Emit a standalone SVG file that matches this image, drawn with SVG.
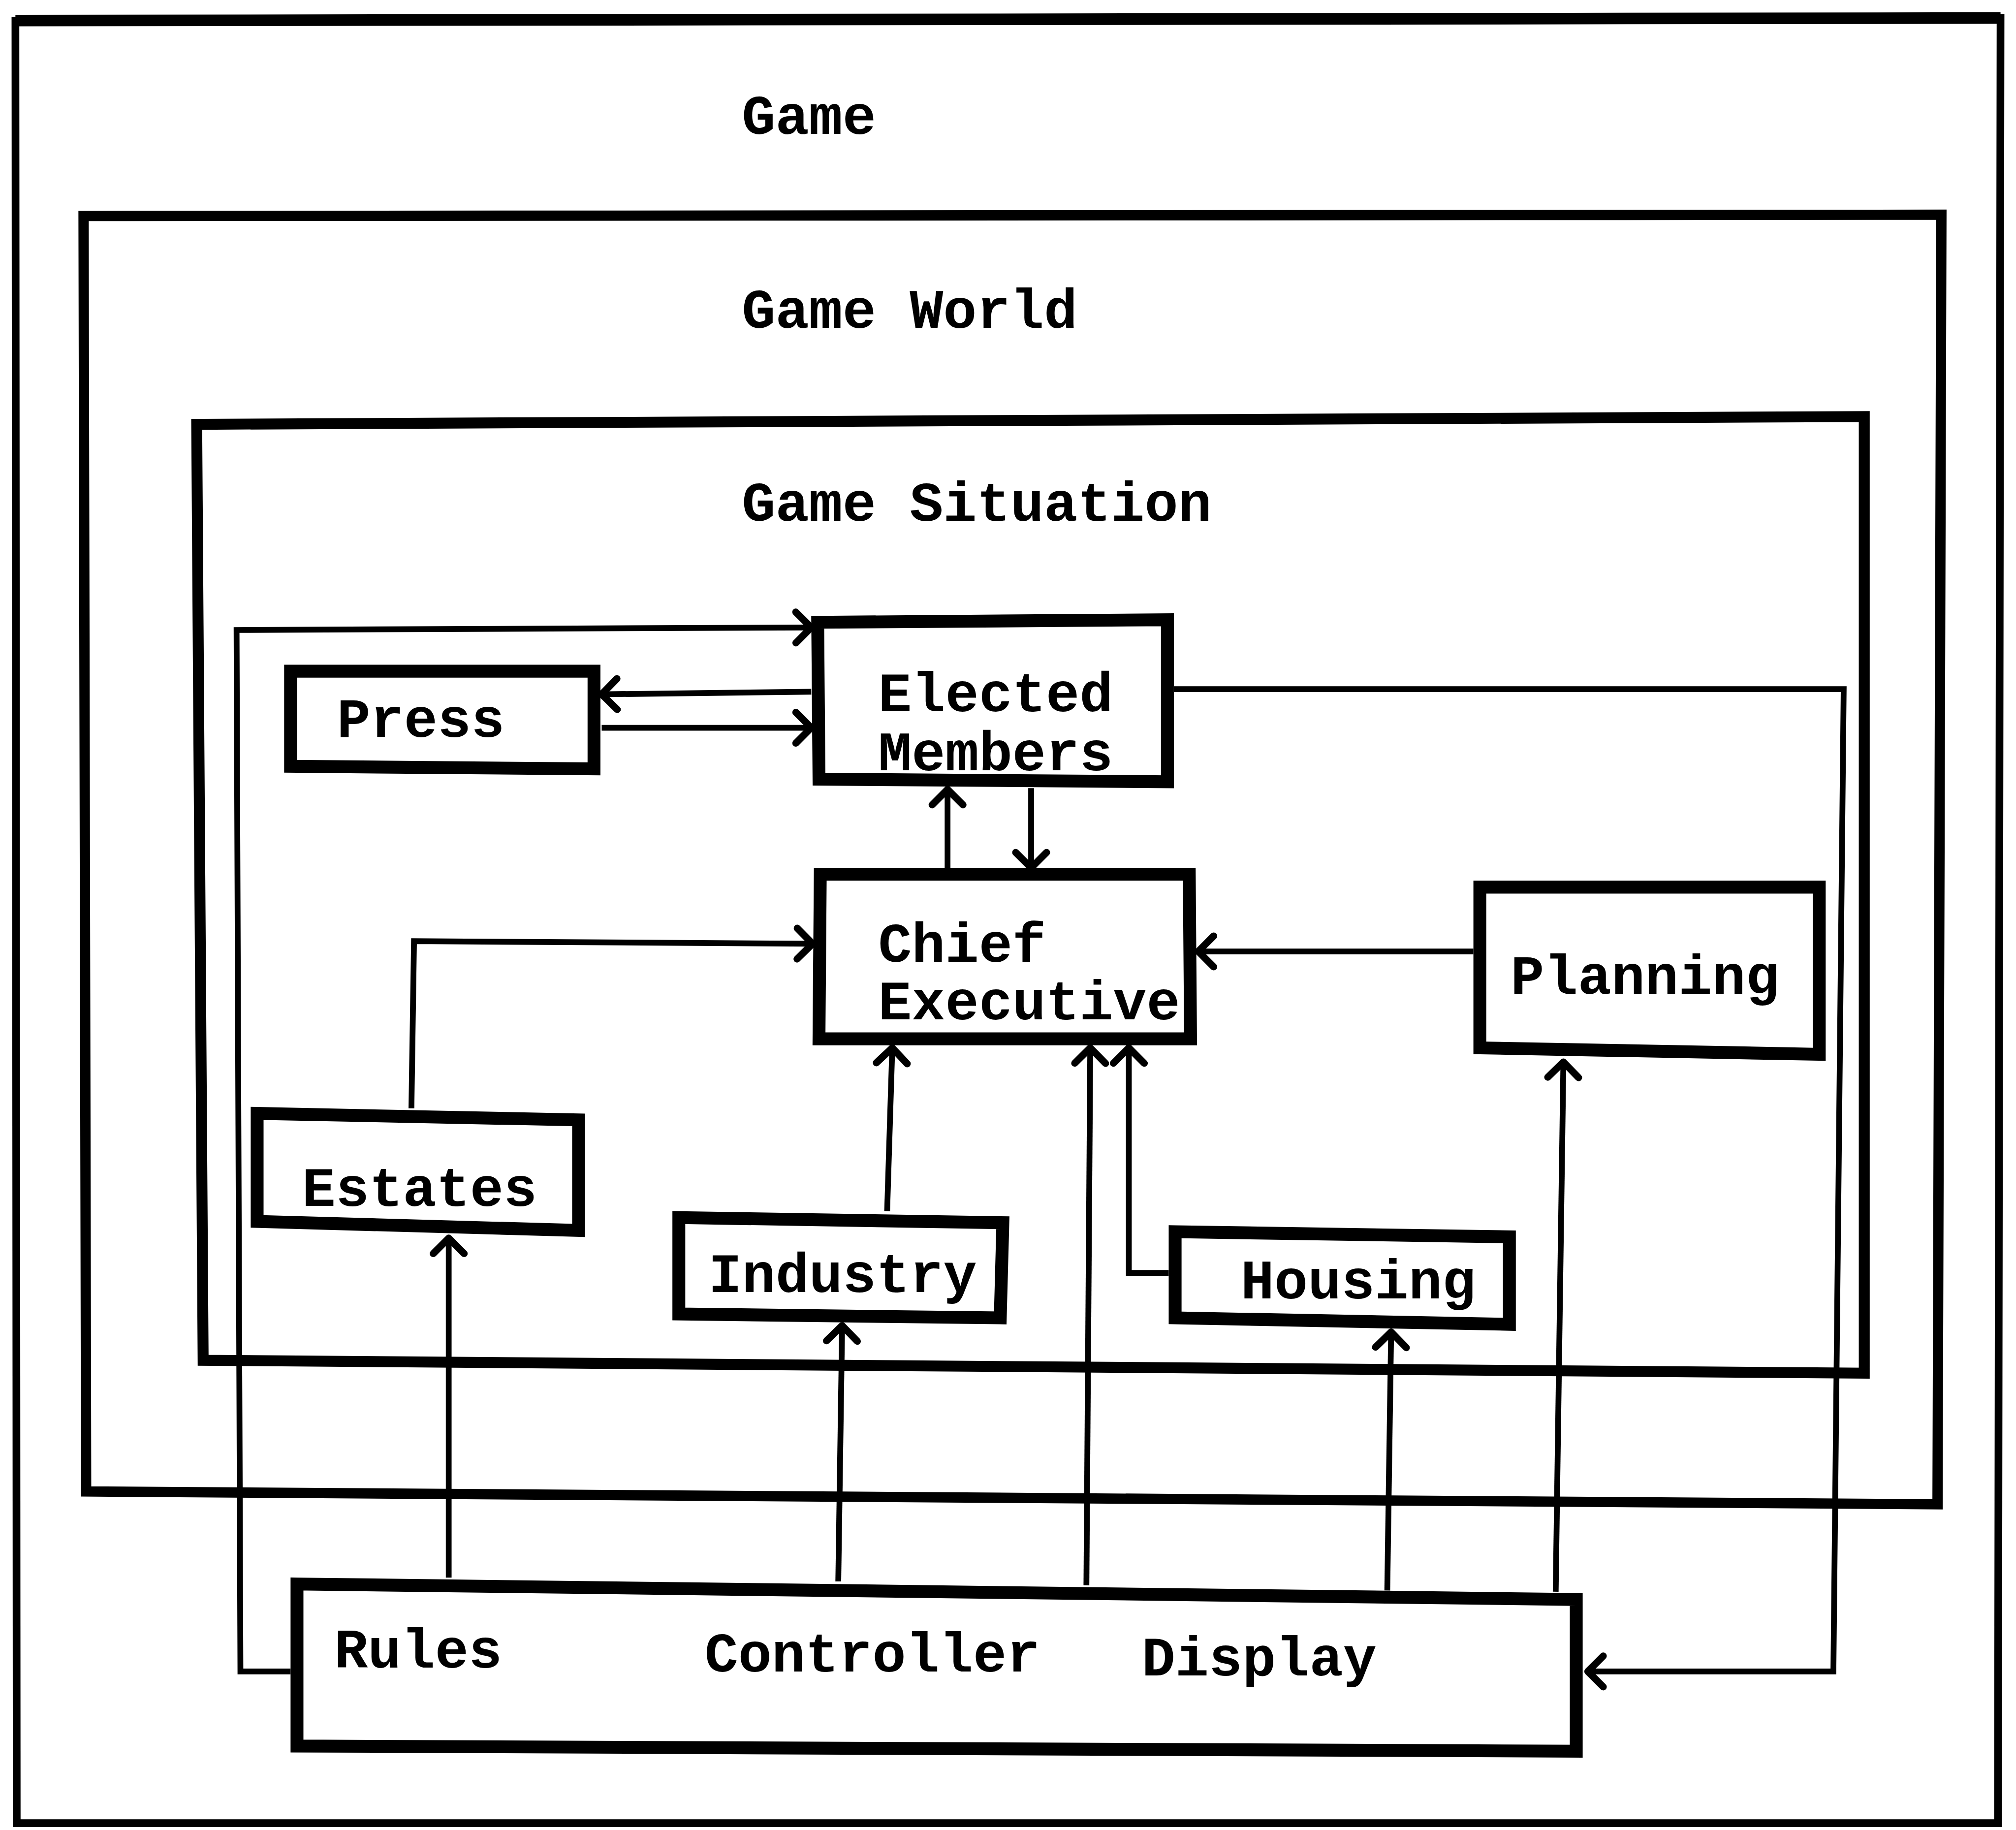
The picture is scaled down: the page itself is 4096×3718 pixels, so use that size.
<svg xmlns="http://www.w3.org/2000/svg" width="4096" height="3718" viewBox="0 0 4096 3718">
<style>
.frame{fill:none;stroke:#000;stroke-linejoin:miter}
.node{fill:none;stroke:#000;stroke-width:10;stroke-linejoin:miter}
.lbl{font-family:"Liberation Mono","DejaVu Sans Mono",monospace;font-weight:bold;font-size:43.5px;fill:#000}
.conn{fill:none;stroke:#000;stroke-width:4.5;stroke-linejoin:miter}
</style>
<defs>
<marker id="arr" markerUnits="userSpaceOnUse" markerWidth="40" markerHeight="40" viewBox="-20 -20 40 40" refX="0" refY="0" orient="auto">
<path d="M -12 -12 L 0 0 L -12 12" fill="none" stroke="#000" stroke-width="5.5" stroke-linecap="round" stroke-linejoin="round"/>
</marker>
</defs>
<rect width="4096" height="3718" fill="#fff"/>
<g transform="scale(2.6122)">
<g id="game">
<path class="frame" stroke-width="6" d="M 12 16 L 1556 14 L 1554 1418 L 13 1418 Z"/>
<path class="frame" stroke-width="9" d="M 12 16 L 1556 14"/>
<text class="lbl" x="577" y="104">Game</text>
</g>
<g id="game-world">
<path class="frame" stroke-width="8" d="M 65 168 L 1510 167 L 1507 1170 L 67 1160 Z"/>
<text class="lbl" x="577" y="255">Game World</text>
</g>
<g id="game-situation">
<path class="frame" stroke-width="8.5" d="M 153 330 L 1450 324 L 1450 1068 L 158 1058 Z"/>
<text class="lbl" x="577" y="405">Game Situation</text>
</g>
<g id="press">
<path class="node" d="M 226 522 L 462 522 L 462 598 L 226 596 Z"/>
<text class="lbl" x="262" y="573">Press</text>
</g>
<g id="elected-members">
<path class="node" d="M 636 484 L 908 482 L 908 608 L 637 606 Z"/>
<text class="lbl" x="683" y="553">Elected</text>
<text class="lbl" x="683" y="599">Members</text>
</g>
<g id="chief-executive">
<path class="node" d="M 638 680 L 925 680 L 926 808 L 637 808 Z"/>
<text class="lbl" x="683" y="748">Chief</text>
<text class="lbl" x="683" y="793">Executive</text>
</g>
<g id="planning">
<path class="node" d="M 1151 690 L 1415 690 L 1415 820 L 1151 815 Z"/>
<text class="lbl" x="1175" y="773">Planning</text>
</g>
<g id="estates">
<path class="node" d="M 200 866 L 450 871 L 450 957 L 200 950 Z"/>
<text class="lbl" x="235" y="938">Estates</text>
</g>
<g id="industry">
<path class="node" d="M 528 947 L 780 951 L 778 1025 L 528 1022 Z"/>
<text class="lbl" x="551" y="1005">Industry</text>
</g>
<g id="housing">
<path class="node" d="M 914 958 L 1174 962 L 1174 1030 L 914 1025 Z"/>
<text class="lbl" x="965" y="1010">Housing</text>
</g>
<g id="rules-controller-display">
<path class="node" stroke-width="12" d="M 231 1232 L 1226 1244 L 1226 1362 L 231 1358 Z"/>
<text class="lbl" x="260" y="1297">Rules</text>
<text class="lbl" x="548" y="1300">Controller</text>
<text class="lbl" x="888" y="1303">Display</text>
</g>
<g id="connectors">
<path class="conn" marker-end="url(#arr)" d="M 226 1300 L 187 1300 L 184 490 L 631 488"/>
<path class="conn" marker-end="url(#arr)" d="M 631 538 L 468 540"/>
<path class="conn" marker-end="url(#arr)" d="M 468 566 L 631 566"/>
<path class="conn" marker-end="url(#arr)" d="M 737 675 L 737 614"/>
<path class="conn" marker-end="url(#arr)" d="M 802 613 L 802 675"/>
<path class="conn" marker-end="url(#arr)" d="M 320 862 L 322 732 L 632 734"/>
<path class="conn" marker-end="url(#arr)" d="M 1146 740 L 932 740"/>
<path class="conn" marker-end="url(#arr)" d="M 690 942 L 694 815"/>
<path class="conn" marker-end="url(#arr)" d="M 845 1233 L 848 815"/>
<path class="conn" marker-end="url(#arr)" d="M 909 990 L 878 990 L 878 815"/>
<path class="conn" marker-end="url(#arr)" d="M 1210 1238 L 1216 826"/>
<path class="conn" marker-end="url(#arr)" d="M 1079 1237 L 1082 1036"/>
<path class="conn" marker-end="url(#arr)" d="M 652 1230 L 655 1031"/>
<path class="conn" marker-end="url(#arr)" d="M 349 1227 L 349 963"/>
<path class="conn" marker-end="url(#arr)" d="M 913 536 L 1434 536 L 1426 1300 L 1235 1300"/>
</g>
</g>
</svg>
